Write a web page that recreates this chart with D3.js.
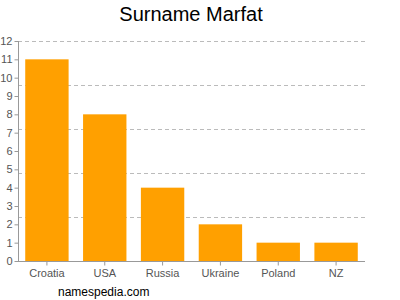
<!DOCTYPE html>
<html>
<head>
<meta charset="utf-8">
<script src="https://cdn.jsdelivr.net/npm/d3@7"></script>
<style>
  body { margin: 0; background: #fff; }
  svg { font-family: "Liberation Sans", Arial, sans-serif; }
</style>
</head>
<body>
<svg id="chart" width="400" height="300"></svg>
<script>
// data
const countries = ["Croatia", "USA", "Russia", "Ukraine", "Poland", "NZ"];
const counts = [11, 8, 4, 2, 1, 1];
const yTicks = [0, 1, 2, 3, 4, 5, 6, 7, 8, 9, 10, 11, 12];
const gridValues = [2.4, 4.8, 7.2, 9.6, 12];

const WIDTH = 400;
const HEIGHT = 300;
const MARGINS = { top: 41, right: 35, bottom: 39, left: 18 };

const svg = d3.select("#chart");

const x = d3.scaleBand()
  .domain(countries)
  .range([MARGINS.left, WIDTH - MARGINS.right])
  .paddingInner(0.25)
  .paddingOuter(0.125);

const y = d3.scaleLinear()
  .domain([0, 12])
  .range([HEIGHT - MARGINS.bottom, MARGINS.top]);

// dashed grid
svg.append("g")
  .selectAll("line")
  .data(gridValues)
  .join("line")
    .attr("x1", MARGINS.left)
    .attr("x2", WIDTH - MARGINS.right)
    .attr("y1", d => Math.round(y(d)) + 0.5)
    .attr("y2", d => Math.round(y(d)) + 0.5)
    .attr("stroke", "#bbb")
    .attr("stroke-dasharray", "4,3");

// bars
svg.append("g")
  .selectAll("rect")
  .data(countries.map((c, i) => ({ c, v: counts[i] })))
  .join("rect")
    .attr("x", d => x(d.c))
    .attr("y", d => y(d.v))
    .attr("width", x.bandwidth())
    .attr("height", d => y(0) - y(d.v))
    .attr("fill", "#ffa000");

// axes
const yAxis = svg.append("g")
  .attr("transform", `translate(${MARGINS.left + 0.5},0)`)
  .call(d3.axisLeft(y).tickValues(yTicks).tickSize(4).tickPadding(2));

const xAxis = svg.append("g")
  .attr("transform", `translate(0,${HEIGHT - MARGINS.bottom + 0.5})`)
  .call(d3.axisBottom(x).tickSize(4).tickPadding(4));

[yAxis, xAxis].forEach(g => {
  g.select(".domain").attr("stroke", "#999");
  g.selectAll(".tick line").attr("stroke", "#999");
  g.selectAll(".tick text")
    .attr("fill", "#555")
    .attr("font-size", "11px")
    .attr("font-family", "Liberation Sans, Arial, sans-serif");
});
xAxis.select(".domain").attr("d", `M${MARGINS.left},0H${WIDTH - MARGINS.right}`);
yAxis.select(".domain").attr("d", `M0,${y(0)}V${y(12)}`);

// title and footer
svg.append("text")
  .attr("x", 191)
  .attr("y", 21)
  .attr("text-anchor", "middle")
  .attr("font-size", "20px")
  .attr("fill", "#000")
  .text("Surname Marfat");

svg.append("text")
  .attr("x", 58)
  .attr("y", 296)
  .attr("font-size", "12px")
  .attr("fill", "#000")
  .text("namespedia.com");
</script>
</body>
</html>
